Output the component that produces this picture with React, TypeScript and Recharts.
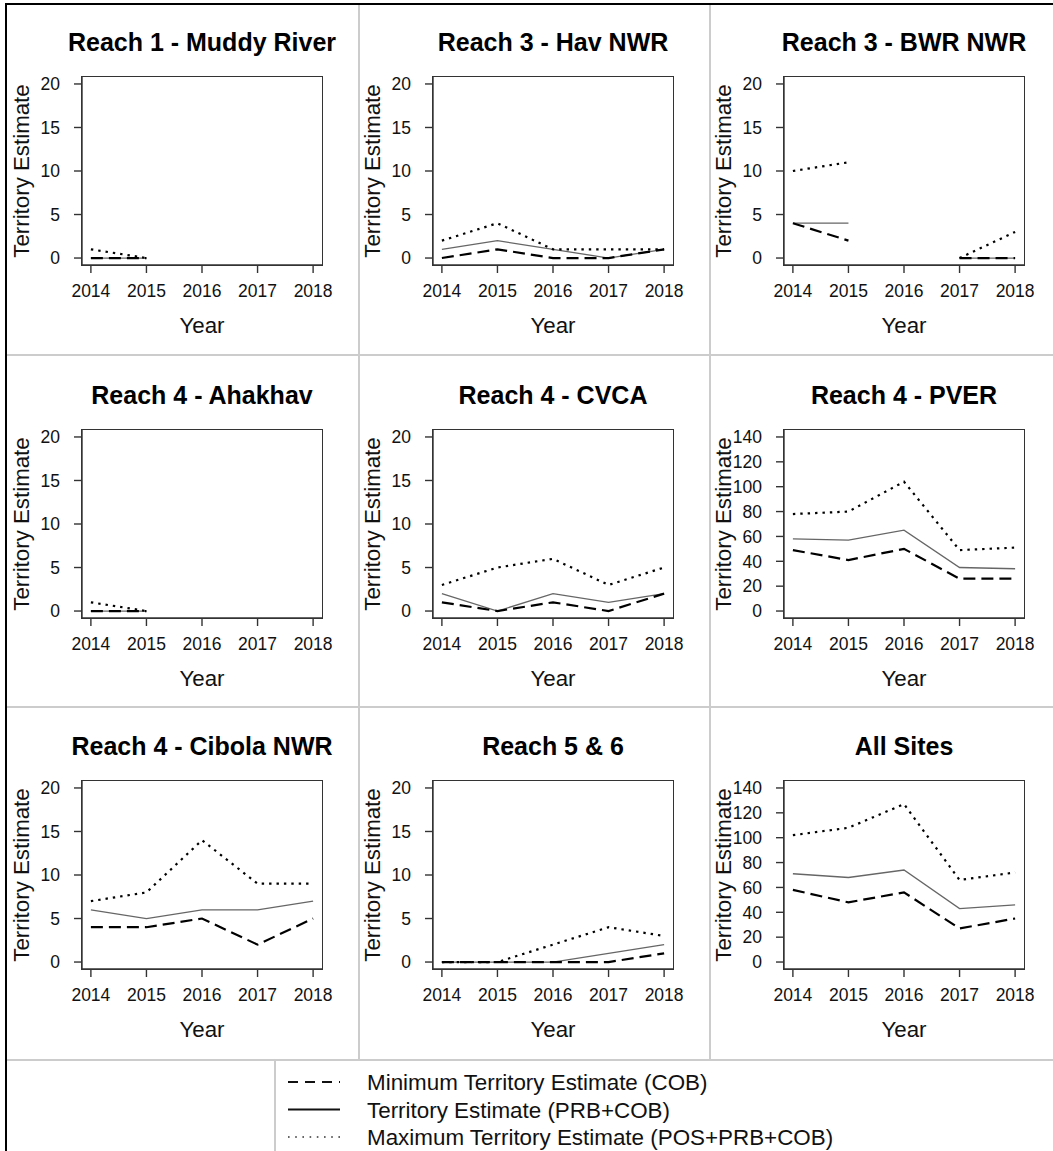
import React from 'react';
import { LineChart, Line, XAxis, YAxis } from 'recharts';

// ---------- data ----------
const YEARS = [2014, 2015, 2016, 2017, 2018];
const X_TICKS = [2014, 2015, 2016, 2017, 2018];
const Y_TICKS_SITE = [0, 5, 10, 15, 20];
const Y_TICKS_LARGE = [0, 20, 40, 60, 80, 100, 120, 140];

const TITLES = [
  'Reach 1 - Muddy River',
  'Reach 3 - Hav NWR',
  'Reach 3 - BWR NWR',
  'Reach 4 - Ahakhav',
  'Reach 4 - CVCA',
  'Reach 4 - PVER',
  'Reach 4 - Cibola NWR',
  'Reach 5 & 6',
  'All Sites',
];

const LEGEND_LABELS = [
  'Minimum Territory Estimate (COB)',
  'Territory Estimate (PRB+COB)',
  'Maximum Territory Estimate (POS+PRB+COB)',
];

const MUDDY_MIN = [0, 0, null, null, null];
const MUDDY_EST = [0, 0, null, null, null];
const MUDDY_MAX = [1, 0, null, null, null];

const HAV_MIN = [0, 1, 0, 0, 1];
const HAV_EST = [1, 2, 1, 0, 1];
const HAV_MAX = [2, 4, 1, 1, 1];

const BWR_MIN = [4, 2, null, 0, 0];
const BWR_EST = [4, 4, null, 0, 0];
const BWR_MAX = [10, 11, null, 0, 3];

const AHAKHAV_MIN = [0, 0, null, null, null];
const AHAKHAV_EST = [0, 0, null, null, null];
const AHAKHAV_MAX = [1, 0, null, null, null];

const CVCA_MIN = [1, 0, 1, 0, 2];
const CVCA_EST = [2, 0, 2, 1, 2];
const CVCA_MAX = [3, 5, 6, 3, 5];

const PVER_MIN = [49, 41, 50, 26, 26];
const PVER_EST = [58, 57, 65, 35, 34];
const PVER_MAX = [78, 80, 104, 49, 51];

const CIBOLA_MIN = [4, 4, 5, 2, 5];
const CIBOLA_EST = [6, 5, 6, 6, 7];
const CIBOLA_MAX = [7, 8, 14, 9, 9];

const R56_MIN = [0, 0, 0, 0, 1];
const R56_EST = [0, 0, 0, 1, 2];
const R56_MAX = [0, 0, 2, 4, 3];

const ALL_MIN = [58, 48, 56, 27, 35];
const ALL_EST = [71, 68, 74, 43, 46];
const ALL_MAX = [102, 108, 127, 66, 72];

const PANELS = [
  { title: TITLES[0], min: MUDDY_MIN, est: MUDDY_EST, max: MUDDY_MAX, yTicks: Y_TICKS_SITE },
  { title: TITLES[1], min: HAV_MIN, est: HAV_EST, max: HAV_MAX, yTicks: Y_TICKS_SITE },
  { title: TITLES[2], min: BWR_MIN, est: BWR_EST, max: BWR_MAX, yTicks: Y_TICKS_SITE },
  { title: TITLES[3], min: AHAKHAV_MIN, est: AHAKHAV_EST, max: AHAKHAV_MAX, yTicks: Y_TICKS_SITE },
  { title: TITLES[4], min: CVCA_MIN, est: CVCA_EST, max: CVCA_MAX, yTicks: Y_TICKS_SITE },
  { title: TITLES[5], min: PVER_MIN, est: PVER_EST, max: PVER_MAX, yTicks: Y_TICKS_LARGE },
  { title: TITLES[6], min: CIBOLA_MIN, est: CIBOLA_EST, max: CIBOLA_MAX, yTicks: Y_TICKS_SITE },
  { title: TITLES[7], min: R56_MIN, est: R56_EST, max: R56_MAX, yTicks: Y_TICKS_SITE },
  { title: TITLES[8], min: ALL_MIN, est: ALL_EST, max: ALL_MAX, yTicks: Y_TICKS_LARGE },
];

// ---------- layout ----------
const FONT = '"Liberation Sans", Arial, Helvetica, sans-serif';
const W = 351;
const H = 352;
const BOX_L = 74;
const BOX_T = 74;
const BOX_W = 240;
const BOX_H = 188;
const COL_X = [8, 359, 710];
const ROW_Y = [3, 356, 707];
const FRAME = '#333';
const GRID = '#cccccc';

const DASH_MIN = '12 6';
const DASH_MAX = '2.4 5';

function Panel({ p, left, top }: any) {
  const data = YEARS.map((year, i) => ({ year, min: p.min[i], est: p.est[i], max: p.max[i] }));
  const yTop = p.yTicks[p.yTicks.length - 1];
  const yPad = yTop * 0.04;
  const xPad = (YEARS[YEARS.length - 1] - YEARS[0]) * 0.04;
  const xDomain = [YEARS[0] - xPad, YEARS[YEARS.length - 1] + xPad];
  const yDomain = [p.yTicks[0] - yPad, yTop + yPad];
  const tickStyle = { fontSize: 17.5, fill: '#111', fontFamily: FONT };

  const yLabel = () => (
    <text
      x={BOX_L - 53}
      y={BOX_T + BOX_H / 2}
      transform={`rotate(-90, ${BOX_L - 53}, ${BOX_T + BOX_H / 2})`}
      textAnchor="middle"
      fontSize={22.3}
      fontFamily={FONT}
      fill="#111"
    >
      Territory Estimate
    </text>
  );
  const xLabel = () => (
    <g>
      <text
        x={BOX_L + BOX_W / 2}
        y={BOX_T + BOX_H + 68}
        textAnchor="middle"
        fontSize={22.3}
        fontFamily={FONT}
        fill="#111"
      >
        Year
      </text>
      <text
        x={BOX_L + BOX_W / 2}
        y={BOX_T - 26}
        textAnchor="middle"
        fontSize={25}
        fontWeight="bold"
        fontFamily={FONT}
        fill="#000"
      >
        {p.title}
      </text>
    </g>
  );

  return (
    <div style={{ position: 'absolute', left, top, width: W, height: H }}>
      <LineChart
        width={W}
        height={H}
        data={data}
        margin={{ top: BOX_T, right: W - BOX_L - BOX_W, bottom: 0, left: 0 }}
      >
        <XAxis
          dataKey="year"
          type="number"
          domain={xDomain}
          ticks={X_TICKS}
          interval={0}
          allowDataOverflow
          height={H - BOX_T - BOX_H}
          tickSize={8}
          tickMargin={12}
          tick={tickStyle}
          stroke={FRAME}
          axisLine={{ stroke: FRAME, strokeWidth: 1.4 }}
          tickLine={{ stroke: FRAME, strokeWidth: 1.4 }}
          label={xLabel}
        />
        <YAxis
          type="number"
          domain={yDomain}
          ticks={p.yTicks}
          interval={0}
          allowDataOverflow
          width={BOX_L}
          tickSize={8}
          tickMargin={14}
          tick={tickStyle}
          stroke={FRAME}
          axisLine={{ stroke: FRAME, strokeWidth: 1.4 }}
          tickLine={{ stroke: FRAME, strokeWidth: 1.4 }}
          label={yLabel}
        />
        <Line
          type="linear"
          dataKey="est"
          stroke="#666"
          strokeWidth={1.3}
          dot={false}
          activeDot={false}
          isAnimationActive={false}
        />
        <Line
          type="linear"
          dataKey="min"
          stroke="#000"
          strokeWidth={2.2}
          strokeDasharray={DASH_MIN}
          dot={false}
          activeDot={false}
          isAnimationActive={false}
        />
        <Line
          type="linear"
          dataKey="max"
          stroke="#000"
          strokeWidth={2.2}
          strokeDasharray={DASH_MAX}
          dot={false}
          activeDot={false}
          isAnimationActive={false}
        />
      </LineChart>
      {/* plot frame (box) */}
      <div
        style={{
          position: 'absolute',
          left: BOX_L - 0.7,
          top: BOX_T - 0.7,
          width: BOX_W + 1.4,
          height: BOX_H + 1.4,
          border: `1.4px solid ${FRAME}`,
          boxSizing: 'border-box',
          pointerEvents: 'none',
        }}
      />
    </div>
  );
}

function LegendBox() {
  const rows = [
    { label: LEGEND_LABELS[0], dash: '10 7', width: 2, color: '#111' },
    { label: LEGEND_LABELS[1], dash: undefined, width: 2, color: '#111' },
    { label: LEGEND_LABELS[2], dash: '1.6 5.6', width: 1.6, color: '#333' },
  ];
  const cy = [22, 49.5, 77];
  return (
    <svg
      width={1053}
      height={91}
      style={{ position: 'absolute', left: 0, top: 1060 }}
    >
      {rows.map((r, i) => (
        <g key={i}>
          <line
            x1={288}
            x2={340}
            y1={cy[i]}
            y2={cy[i]}
            stroke={r.color}
            strokeWidth={r.width}
            strokeDasharray={r.dash}
          />
          <text x={367} y={cy[i] + 8} fontSize={22.4} fontFamily={FONT} fill="#111">
            {r.label}
          </text>
        </g>
      ))}
    </svg>
  );
}

export default function App() {
  return (
    <div
      style={{
        position: 'absolute',
        left: 0,
        top: 0,
        width: 1053,
        height: 1151,
        background: '#fff',
        overflow: 'hidden',
        fontFamily: FONT,
      }}
    >
      {/* outer frame */}
      <div style={{ position: 'absolute', left: 5, top: 3, width: 1060, height: 1160, borderLeft: '2px solid #000', borderTop: '2px solid #000' }} />
      {/* cell dividers */}
      <div style={{ position: 'absolute', left: 358, top: 5, width: 2, height: 1055, background: GRID }} />
      <div style={{ position: 'absolute', left: 709, top: 5, width: 2, height: 1055, background: GRID }} />
      <div style={{ position: 'absolute', left: 7, top: 354, width: 1046, height: 2, background: GRID }} />
      <div style={{ position: 'absolute', left: 7, top: 706, width: 1046, height: 2, background: GRID }} />
      <div style={{ position: 'absolute', left: 7, top: 1059, width: 1046, height: 2, background: GRID }} />
      <div style={{ position: 'absolute', left: 274, top: 1060, width: 2, height: 91, background: GRID }} />

      {PANELS.map((p, i) => (
        <Panel key={i} p={p} left={COL_X[i % 3]} top={ROW_Y[Math.floor(i / 3)]} />
      ))}
      <LegendBox />
    </div>
  );
}
